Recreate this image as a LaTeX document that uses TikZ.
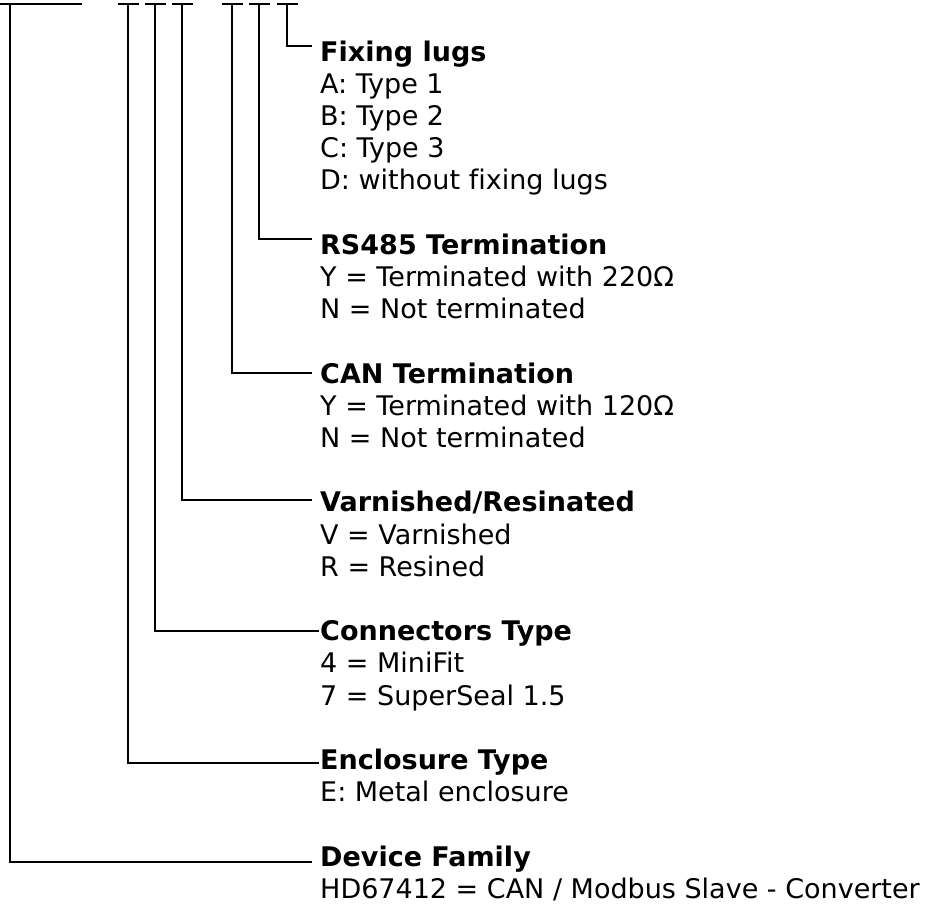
\documentclass[tikz,border=0pt]{standalone}
\usepackage{fontspec}
\setmainfont{DejaVu Sans}[Ligatures=CommonOff]
\usepackage{xcolor}
\usepackage{tikz}
\usetikzlibrary{positioning}
\definecolor{cLead}{HTML}{000000}
\definecolor{cText}{HTML}{000000}
\tikzset{
  lead/.style = {draw=cLead, line width=2pt},
  head/.style = {anchor=base west, inner xsep=8pt, inner ysep=0pt, text height=20pt,
                 text depth=0pt, text=cText, font=\fontsize{27}{32.2}\selectfont\bfseries},
  opt/.style  = {anchor=base west, inner sep=0pt, text=cText,
                 font=\fontsize{27}{32.2}\selectfont},
}

\begin{document}
\begin{tikzpicture}[x=1pt, y=-1pt]
  \useasboundingbox (0,0) rectangle (927,905);

  % code positions
  \coordinate (tFam) at (10,4);
  \coordinate (tEnc) at (128,4);
  \coordinate (tCon) at (155,4);
  \coordinate (tVar) at (182,4);
  \coordinate (tCan) at (232,4);
  \coordinate (tRs)  at (259,4);
  \coordinate (tFix) at (287,4);
  \draw[lead] (0,4) -- (82,4);
  \foreach \c in {tEnc,tCon,tVar,tCan,tRs,tFix}
    \draw[lead] ([xshift=-10.5pt]\c) -- ([xshift=10.5pt]\c);

  % headings
  \node[head] (lugs) at (312,61.0)  {Fixing lugs};
  \node[head] (rs)   at (312,254.2) {RS485 Termination};
  \node[head] (can)  at (312,383.0) {CAN Termination};
  \node[head] (varn) at (312,511.8) {Varnished/Resinated};
  \node[head, inner xsep=1pt] (conn) at (319,640.6) {Connectors Type};
  \node[head, inner xsep=1pt] (encl) at (319,769.4) {Enclosure Type};
  \node[head] (fam)  at (312,866.0) {Device Family};

  % options
  \foreach \t [count=\i] in {A: Type 1, B: Type 2, C: Type 3, D: without fixing lugs}
    \node[opt] (lugs\i) at (320,61.0+\i*32.2) {\t};
  \foreach \t [count=\i] in {Y = Terminated with 220Ω, N = Not terminated}
    \node[opt] (rs\i) at (320,254.2+\i*32.2) {\t};
  \foreach \t [count=\i] in {Y = Terminated with 120Ω, N = Not terminated}
    \node[opt] (can\i) at (320,383.0+\i*32.2) {\t};
  \foreach \t [count=\i] in {V = Varnished, R = Resined}
    \node[opt] (varn\i) at (320,511.8+\i*32.2) {\t};
  \foreach \t [count=\i] in {4 = MiniFit, 7 = SuperSeal 1.5}
    \node[opt] (conn\i) at (320,640.6+\i*32.2) {\t};
  \node[opt] (encl1) at (320,801.6) {E: Metal enclosure};
  \node[opt] (fam1)  at (320,898.2) {HD67412 = CAN / Modbus Slave - Converter};

  % leaders
  \draw[lead] (tFix) |- ([yshift=5pt]lugs.west);
  \draw[lead] (tRs)  |- ([yshift=5pt]rs.west);
  \draw[lead] (tCan) |- (can.west);
  \draw[lead] (tVar) |- ([yshift=2pt]varn.west);
  \draw[lead] (tCon) |- (conn.west);
  \draw[lead] (tEnc) |- ([yshift=-4pt]encl.west);
  \draw[lead] (tFam) |- ([yshift=-6pt]fam.west);
\end{tikzpicture}
\end{document}
